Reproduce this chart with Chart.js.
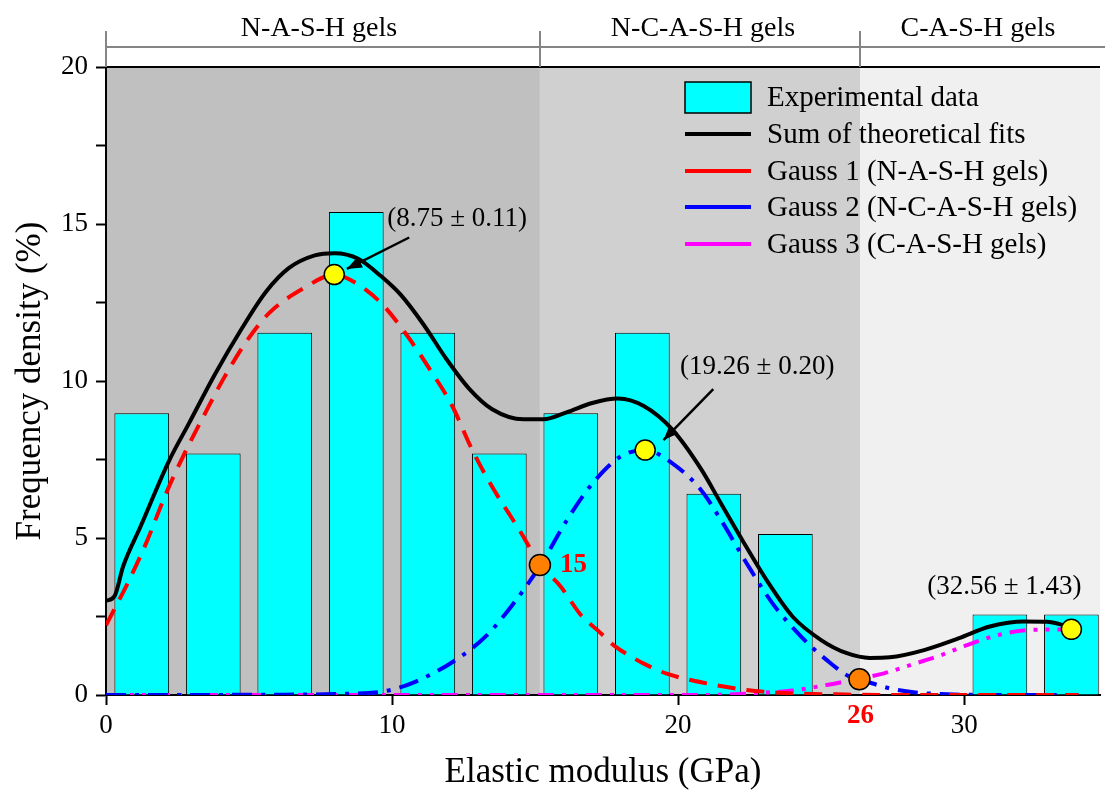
<!DOCTYPE html>
<html>
<head>
<meta charset="utf-8">
<script src="https://cdn.jsdelivr.net/npm/chart.js@4.4.1/dist/chart.umd.min.js"></script>
<style>
  html, body { margin: 0; padding: 0; background: #fff; }
</style>
</head>
<body>
<canvas id="chart" width="1105" height="798"></canvas>
<script>
// Histogram: bin centres (GPa) and frequency density (%)
const binCenters = [1.25, 3.75, 6.25, 8.75, 11.25, 13.75, 16.25, 18.75, 21.25, 23.75, 26.25, 28.75, 31.25, 33.75]
const freqDensity = [8.97, 7.69, 11.54, 15.38, 11.54, 7.69, 8.97, 11.54, 6.41, 5.13, 0, 0, 2.56, 2.56]

// Sum of theoretical fits
const sumX = [0, 0.3, 0.6, 1.2, 2.2, 2.9, 3.8, 4.7, 5.6, 6.4, 7.3, 8.0, 8.8, 9.6, 10.3, 11.1, 11.9, 12.7, 13.5, 14.6, 15.3, 16.1, 17.0, 17.9, 18.8, 19.8, 20.8, 21.5, 22.3, 23.1, 24.0, 25.0, 25.9, 26.7, 27.4, 28.6, 29.8, 30.9, 32.1, 32.9, 33.6]
const sumY = [3.0, 3.15, 4.1, 5.35, 7.45, 8.65, 10.2, 11.6, 12.85, 13.6, 14.0, 14.07, 13.9, 13.35, 12.75, 11.8, 10.7, 9.75, 9.1, 8.78, 8.78, 9.0, 9.3, 9.44, 9.2, 8.45, 7.2, 6.1, 4.85, 3.65, 2.5, 1.75, 1.33, 1.18, 1.2, 1.43, 1.8, 2.18, 2.34, 2.33, 2.2]

// Gauss 1 (N-A-S-H gels)
const g1X = [0, 0.8, 1.4, 2.1, 2.7, 3.4, 4.1, 4.9, 5.7, 6.9, 8.0, 8.5, 9.6, 10.5, 11.3, 12.1, 12.8, 13.5, 14.4, 15.2, 15.9, 16.6, 17.2, 17.8, 18.4, 18.8, 19.6, 21.0, 22.4, 24.0, 25.5, 27, 34]
const g1Y = [2.22, 3.64, 4.83, 6.42, 7.61, 8.86, 10.06, 11.25, 12.16, 12.95, 13.39, 13.24, 12.5, 11.48, 10.4, 9.21, 7.81, 6.63, 5.33, 4.14, 3.45, 2.55, 2.05, 1.55, 1.2, 1.0, 0.68, 0.37, 0.16, 0.05, 0.02, 0, 0]

// Gauss 2 (N-C-A-S-H gels)
const g2X = [0, 6, 8, 9.6, 10.7, 12.25, 13.3, 14.2, 15.2, 16.1, 17.0, 18.0, 18.85, 19.8, 20.8, 21.5, 22.4, 23.3, 24.3, 25.2, 26.0, 26.4, 27.4, 28.3, 29.2, 31, 34]
const g2Y = [0, 0.01, 0.03, 0.1, 0.38, 1.13, 1.89, 2.86, 4.15, 5.55, 6.73, 7.6, 7.8, 7.38, 6.53, 5.57, 4.19, 2.92, 1.86, 1.11, 0.58, 0.48, 0.21, 0.08, 0.03, 0, 0]

// Gauss 3 (C-A-S-H gels)
const g3X = [0, 21, 22.9, 24.0, 25.2, 26.1, 26.4, 27.2, 28.0, 29.2, 30.1, 31.2, 32.3, 33.75]
const g3Y = [0, 0, 0.07, 0.14, 0.32, 0.48, 0.53, 0.69, 0.92, 1.27, 1.59, 1.91, 2.07, 2.09]

// peak markers (yellow) and crossing markers (orange)
const peakX = [7.98, 18.85, 33.75]
const peakY = [13.39, 7.8, 2.09]
const peakLabels = ['(8.75 ± 0.11)', '(19.26 ± 0.20)', '(32.56 ± 1.43)']
const crossX = [15.17, 26.34]
const crossY = [4.14, 0.5]
const crossLabels = ['15', '26']

// gel zones
const zoneEdges = [0, 15.17, 26.37, 34.75]
const zoneNames = ['N-A-S-H gels', 'N-C-A-S-H gels', 'C-A-S-H gels']
const zoneColors = ['#c0c0c0', '#d0d0d0', '#f0f0f0']

const xTicks = [0, 10, 20, 30]
const FONT = '"Liberation Serif", "Times New Roman", serif'

function pts(xs, ys) {
  return xs.map((x, i) => ({ x: x, y: ys[i] }))
}

function arrow(ctx, x1, y1, x2, y2) {
  ctx.beginPath()
  ctx.moveTo(x1, y1)
  ctx.lineTo(x2, y2)
  ctx.stroke()
  const a = Math.atan2(y2 - y1, x2 - x1), L = 15, W = 6
  ctx.beginPath()
  ctx.moveTo(x2, y2)
  ctx.lineTo(x2 - L * Math.cos(a) + W * Math.sin(a), y2 - L * Math.sin(a) - W * Math.cos(a))
  ctx.lineTo(x2 - L * Math.cos(a) - W * Math.sin(a), y2 - L * Math.sin(a) + W * Math.cos(a))
  ctx.closePath()
  ctx.fill()
}

// background zones
const zonePlugin = {
  id: 'zones',
  beforeDraw(chart) {
    const { ctx, chartArea } = chart
    const xs = chart.scales.x
    ctx.save()
    for (let i = 0; i < zoneColors.length; i++) {
      const l = xs.getPixelForValue(zoneEdges[i])
      const r = xs.getPixelForValue(zoneEdges[i + 1])
      ctx.fillStyle = zoneColors[i]
      ctx.fillRect(l, chartArea.top, r - l, chartArea.bottom - chartArea.top)
    }
    ctx.restore()
  }
}

// header, legend, labels and arrows
const decoPlugin = {
  id: 'deco',
  afterDraw(chart) {
    const { ctx, chartArea } = chart
    const xs = chart.scales.x
    const ys = chart.scales.y
    ctx.save()

    // top border of plot
    ctx.strokeStyle = '#000'
    ctx.lineWidth = 2
    ctx.beginPath()
    ctx.moveTo(chartArea.left, chartArea.top)
    ctx.lineTo(chartArea.right, chartArea.top)
    ctx.stroke()

    // header bracket
    ctx.strokeStyle = '#858585'
    ctx.lineWidth = 2
    ctx.beginPath()
    ctx.moveTo(chartArea.left, 47)
    ctx.lineTo(chart.width, 47)
    for (let i = 0; i < 3; i++) {
      const px = Math.round(xs.getPixelForValue(zoneEdges[i]))
      ctx.moveTo(px, 31)
      ctx.lineTo(px, chartArea.top)
    }
    ctx.stroke()
    ctx.fillStyle = '#000'
    ctx.font = '28px ' + FONT
    ctx.textAlign = 'center'
    ctx.textBaseline = 'alphabetic'
    const centers = [319, 703, 978]
    zoneNames.forEach((n, i) => ctx.fillText(n, centers[i], 36))

    // legend
    const lx = 685, lw = 66, tx = 767
    const rows = [97, 134, 171, 207, 244]
    ctx.fillStyle = '#00ffff'
    ctx.fillRect(lx, 82, lw, 31)
    ctx.strokeStyle = '#000'
    ctx.lineWidth = 1.5
    ctx.strokeRect(lx, 82, lw, 31)
    const lineColors = ['#000000', '#ff0000', '#0000ff', '#ff00ff']
    lineColors.forEach((c, i) => {
      ctx.strokeStyle = c
      ctx.lineWidth = 4
      ctx.beginPath()
      ctx.moveTo(lx, rows[i + 1])
      ctx.lineTo(lx + lw, rows[i + 1])
      ctx.stroke()
    })
    ctx.fillStyle = '#000'
    ctx.font = '29px ' + FONT
    ctx.textAlign = 'left'
    ctx.textBaseline = 'middle'
    const names = chart.data.datasets.filter(d => d.legend).map(d => d.label)
    names.forEach((n, i) => ctx.fillText(n, tx, rows[i] + 1))

    // arrows to peaks
    ctx.strokeStyle = '#000'
    ctx.fillStyle = '#000'
    ctx.lineWidth = 2.5
    arrow(ctx, xs.getPixelForValue(10.6), ys.getPixelForValue(14.57), xs.getPixelForValue(8.42), ys.getPixelForValue(13.57))
    arrow(ctx, xs.getPixelForValue(21.23), ys.getPixelForValue(9.74), xs.getPixelForValue(19.49), ys.getPixelForValue(8.12))

    // peak labels
    ctx.font = '27px ' + FONT
    ctx.textAlign = 'left'
    ctx.textBaseline = 'middle'
    const labelPos = [[9.83, 15.17], [20.07, 10.45], [28.71, 3.45]]
    peakLabels.forEach((t, i) => ctx.fillText(t, xs.getPixelForValue(labelPos[i][0]), ys.getPixelForValue(labelPos[i][1])))

    // crossing labels
    ctx.fillStyle = '#ff0000'
    ctx.font = 'bold 27px ' + FONT
    ctx.fillText(crossLabels[0], xs.getPixelForValue(15.87), ys.getPixelForValue(4.14))
    ctx.textAlign = 'center'
    ctx.fillText(crossLabels[1], xs.getPixelForValue(crossX[1]) + 1, 716)

    ctx.restore()
  }
}

const ctx = document.getElementById('chart')
new Chart(ctx, {
  type: 'bar',
  data: {
    datasets: [
      {
        type: 'scatter', label: 'peaks', data: pts(peakX, peakY),
        backgroundColor: '#ffff00', borderColor: '#000', borderWidth: 1.5,
        pointRadius: 10, order: 0
      },
      {
        type: 'scatter', label: 'cross', data: pts(crossX, crossY),
        backgroundColor: '#ff8000', borderColor: '#000', borderWidth: 1.5,
        pointRadius: 10.5, order: 0
      },
      {
        type: 'bar', label: 'Experimental data', legend: true, data: pts(binCenters, freqDensity),
        backgroundColor: '#00ffff', borderColor: '#000', borderWidth: 1,
        categoryPercentage: 1, barPercentage: 0.765, order: 10
      },
      {
        type: 'line', label: 'Sum of theoretical fits', legend: true, data: pts(sumX, sumY),
        borderColor: '#000', borderWidth: 4, pointRadius: 0, fill: false,
        cubicInterpolationMode: 'monotone', order: 1
      },
      {
        type: 'line', label: 'Gauss 1 (N-A-S-H gels)', legend: true, data: pts(g1X, g1Y),
        borderColor: '#ff0000', borderWidth: 4, borderDash: [18, 11], pointRadius: 0, fill: false,
        cubicInterpolationMode: 'monotone', order: 2
      },
      {
        type: 'line', label: 'Gauss 2 (N-C-A-S-H gels)', legend: true, data: pts(g2X, g2Y),
        borderColor: '#0000ff', borderWidth: 4, borderDash: [20, 9, 4, 9], pointRadius: 0, fill: false,
        cubicInterpolationMode: 'monotone', order: 3
      },
      {
        type: 'line', label: 'Gauss 3 (C-A-S-H gels)', legend: true, data: pts(g3X, g3Y),
        borderColor: '#ff00ff', borderWidth: 4, borderDash: [16, 8, 4, 8, 4, 8], pointRadius: 0, fill: false,
        cubicInterpolationMode: 'monotone', order: 4
      }
    ]
  },
  options: {
    responsive: false,
    animation: false,
    layout: { autoPadding: false, padding: { top: 67, right: 5, left: 0, bottom: 0 } },
    plugins: {
      legend: { display: false },
      tooltip: { enabled: false }
    },
    scales: {
      x: {
        type: 'linear', min: 0, max: 34.75, offset: false,
        afterFit(s) { s.height = 103; s.paddingLeft = 0; s.paddingRight = 0 },
        afterBuildTicks(s) { s.ticks = xTicks.map(v => ({ value: v })) },
        grid: { drawOnChartArea: false, offset: false, tickLength: 10, color: '#000', tickWidth: 2 },
        border: { color: '#000', width: 2 },
        ticks: { color: '#000', font: { family: FONT, size: 27 }, padding: 5, maxRotation: 0 },
        title: {
          display: true, text: 'Elastic modulus (GPa)', color: '#000',
          font: { family: FONT, size: 35 }, padding: { top: 0, bottom: 4 }
        }
      },
      y: {
        min: 0, max: 20,
        afterFit(s) { s.width = 106; s.paddingTop = 0; s.paddingBottom = 0 },
        grid: { drawOnChartArea: false, tickLength: 10, color: '#000', tickWidth: 2 },
        border: { color: '#000', width: 2 },
        ticks: {
          stepSize: 2.5, color: '#000', font: { family: FONT, size: 27 }, padding: 8,
          callback: v => (v % 5 === 0 ? v : '')
        },
        title: {
          display: true, text: 'Frequency density (%)', color: '#000',
          font: { family: FONT, size: 35 }, padding: { top: 10, bottom: 0 }
        }
      }
    }
  },
  plugins: [zonePlugin, decoPlugin]
})
</script>
</body>
</html>
